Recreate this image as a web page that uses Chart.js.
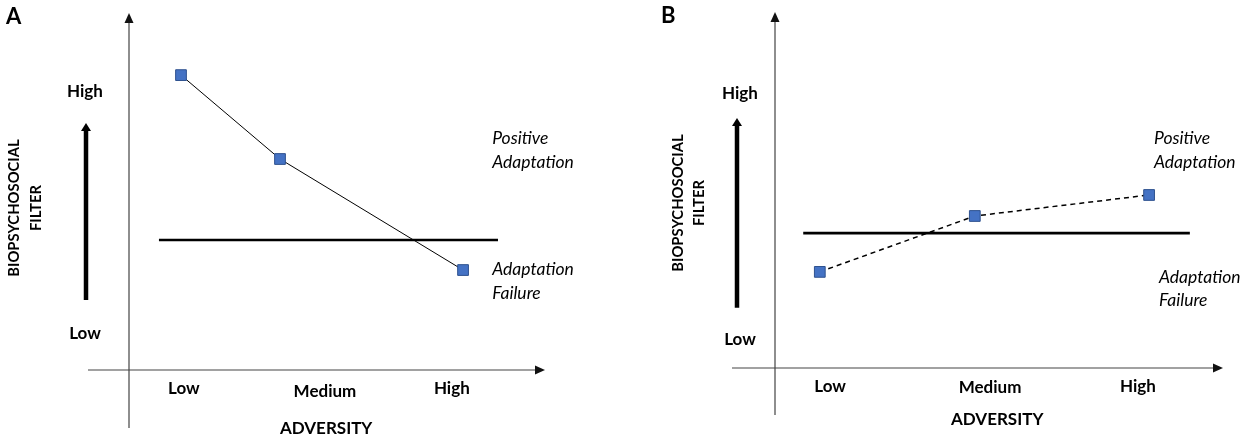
<!DOCTYPE html>
<html>
<head>
<meta charset="utf-8">
<script src="https://cdn.jsdelivr.net/npm/chart.js@4.4.1/dist/chart.umd.min.js"></script>
<style>
  html, body { margin: 0; padding: 0; background: #ffffff; }
  #wrap { display: flex; width: 1248px; height: 438px; }
  canvas { display: block; }
</style>
</head>
<body>
<div id="wrap">
  <canvas id="panelA" width="624" height="438"></canvas>
  <canvas id="panelB" width="624" height="438"></canvas>
</div>
<script>
// conceptual scales: adversity 0-10 along x, biopsychosocial filter 0-10 along y
const adversityLabels = ["Low", "Medium", "High"];
const filterLabels = ["Low", "High"];

// panel A
const adversityA = [1.25, 3.63, 8.03];
const filterA = [8.26, 5.91, 2.80];
const thresholdA = 3.64;
const thresholdSpanA = [0.72, 8.87];
const adversityTicksA = [1.32, 4.71, 7.76];
const filterTicksA = [1.01, 7.81];

// panel B
const adversityB = [1.0, 4.46, 8.35];
const filterB = [2.70, 4.27, 4.86];
const thresholdB = 3.79;
const thresholdSpanB = [0.63, 9.26];
const adversityTicksB = [1.23, 4.80, 8.10];
const filterTicksB = [0.79, 7.70];

const FONT = "Lato, 'Open Sans', sans-serif";

function arrowHead(ctx, x, y, dir, len, half) {
  ctx.beginPath();
  if (dir === "up") {
    ctx.moveTo(x, y);
    ctx.lineTo(x - half, y + len);
    ctx.lineTo(x + half, y + len);
  } else {
    ctx.moveTo(x, y);
    ctx.lineTo(x - len, y - half);
    ctx.lineTo(x - len, y + half);
  }
  ctx.closePath();
  ctx.fill();
}

function text(ctx, str, x, y, font, align) {
  ctx.font = font;
  ctx.textAlign = align || "center";
  ctx.textBaseline = "middle";
  ctx.fillText(str, x, y);
}

const diagramPlugin = {
  id: "diagram",
  beforeDatasetsDraw(chart, args, opts) {
    const { ctx } = chart;
    const xs = chart.scales.x, ys = chart.scales.y;
    const ox = xs.getPixelForValue(0), oy = ys.getPixelForValue(0);
    const xEnd = xs.getPixelForValue(10), yEnd = ys.getPixelForValue(10);
    ctx.save();
    ctx.fillStyle = "#000";

    // axes
    ctx.strokeStyle = "#444";
    ctx.fillStyle = "#111";
    ctx.lineWidth = 1.2;
    ctx.beginPath();
    ctx.moveTo(ox, oy + opts.axisBelow);
    ctx.lineTo(ox, yEnd + 8);
    ctx.moveTo(ox - opts.axisLeft, oy);
    ctx.lineTo(xEnd - 8, oy);
    ctx.stroke();
    arrowHead(ctx, ox, yEnd, "up", 10, 4.5);
    arrowHead(ctx, xEnd, oy, "right", 10, 4.5);

    // thick filter arrow
    const ax = ox - opts.bigArrowOffset;
    const aTop = ys.getPixelForValue(opts.bigArrowSpan[1]);
    ctx.strokeStyle = "#000";
    ctx.fillStyle = "#000";
    ctx.lineWidth = 4.5;
    ctx.beginPath();
    ctx.moveTo(ax, ys.getPixelForValue(opts.bigArrowSpan[0]));
    ctx.lineTo(ax, aTop + 6);
    ctx.stroke();
    arrowHead(ctx, ax, aTop, "up", 8, 5);

    // labels
    const bold = "bold 17px " + FONT;
    opts.adversityTicks.forEach((v, i) => {
      text(ctx, adversityLabels[i], xs.getPixelForValue(v), oy + opts.tickGap[i], bold);
    });
    opts.filterTicks.forEach((v, i) => {
      text(ctx, filterLabels[i], ax + opts.filterLabelShift, ys.getPixelForValue(v), bold);
    });
    text(ctx, "ADVERSITY", xs.getPixelForValue(opts.titleX), oy + opts.titleGap, bold);

    ctx.save();
    ctx.translate(opts.yTitleX[0], opts.yTitleY);
    ctx.rotate(-Math.PI / 2);
    text(ctx, "BIOPSYCHOSOCIAL", 0, 0, "bold 14.8px " + FONT);
    ctx.restore();
    ctx.save();
    ctx.translate(opts.yTitleX[1], opts.yTitleY);
    ctx.rotate(-Math.PI / 2);
    text(ctx, "FILTER", 0, 0, "bold 14.8px " + FONT);
    ctx.restore();

    text(ctx, opts.letter, opts.letterPos[0], opts.letterPos[1], "bold 22px " + FONT, "left");

    const ital = "italic 17.5px " + FONT;
    const tx = xs.getPixelForValue(opts.noteX[0]);
    const bx = xs.getPixelForValue(opts.noteX[1]);
    text(ctx, "Positive", tx, opts.noteY[0], ital, "left");
    text(ctx, "Adaptation", tx, opts.noteY[1], ital, "left");
    text(ctx, "Adaptation", bx, opts.noteY[2], ital, "left");
    text(ctx, "Failure", bx, opts.noteY[3], ital, "left");
    ctx.restore();
  }
};

function makePanel(id, xsData, ysData, threshold, span, dash, layout) {
  const points = xsData.map((x, i) => ({ x: x, y: ysData[i] }));
  new Chart(document.getElementById(id), {
    type: "scatter",
    data: {
      datasets: [
        {
          data: [{ x: span[0], y: threshold }, { x: span[1], y: threshold }],
          showLine: true,
          borderColor: "#000",
          borderWidth: 2.6,
          pointRadius: 0,
        },
        {
          data: points,
          showLine: true,
          borderColor: "#000",
          borderWidth: dash.length ? 1.5 : 1,
          borderDash: dash,
          pointStyle: "rect",
          pointRadius: 7.6,
          pointBackgroundColor: "#4472C4",
          pointBorderColor: "#2F528F",
          pointBorderWidth: 1,
        },
      ],
    },
    options: {
      responsive: false,
      animation: false,
      events: [],
      layout: { padding: layout.padding },
      scales: {
        x: { type: "linear", min: 0, max: 10, display: false },
        y: { type: "linear", min: 0, max: 10, display: false },
      },
      plugins: {
        legend: { display: false },
        tooltip: { enabled: false },
        diagram: layout,
      },
    },
    plugins: [diagramPlugin],
  });
}

makePanel("panelA", adversityA, filterA, thresholdA, thresholdSpanA, [], {
  padding: { left: 129, right: 79, top: 13, bottom: 68 },
  axisBelow: 58, axisLeft: 41,
  bigArrowOffset: 43, bigArrowSpan: [1.96, 6.92], filterLabelShift: -1,
  adversityTicks: adversityTicksA, tickGap: [19, 22, 19],
  filterTicks: filterTicksA,
  titleX: 4.74, titleGap: 59,
  yTitleX: [14, 36], yTitleY: 208,
  letter: "A", letterPos: [6, 17],
  noteX: [8.73, 8.73], noteY: [138, 162, 269, 293],
});

makePanel("panelB", adversityB, filterB, thresholdB, thresholdSpanB, [5, 4], {
  padding: { left: 151, right: 25, top: 12, bottom: 70 },
  axisBelow: 47, axisLeft: 43,
  bigArrowOffset: 38, bigArrowSpan: [1.69, 7.02], filterLabelShift: 3,
  adversityTicks: adversityTicksB, tickGap: [19, 20, 19],
  filterTicks: filterTicksB,
  titleX: 4.96, titleGap: 52,
  yTitleX: [54, 75], yTitleY: 203,
  letter: "B", letterPos: [37, 16],
  noteX: [8.46, 8.57], noteY: [138, 162, 277, 300],
});
</script>
</body>
</html>
